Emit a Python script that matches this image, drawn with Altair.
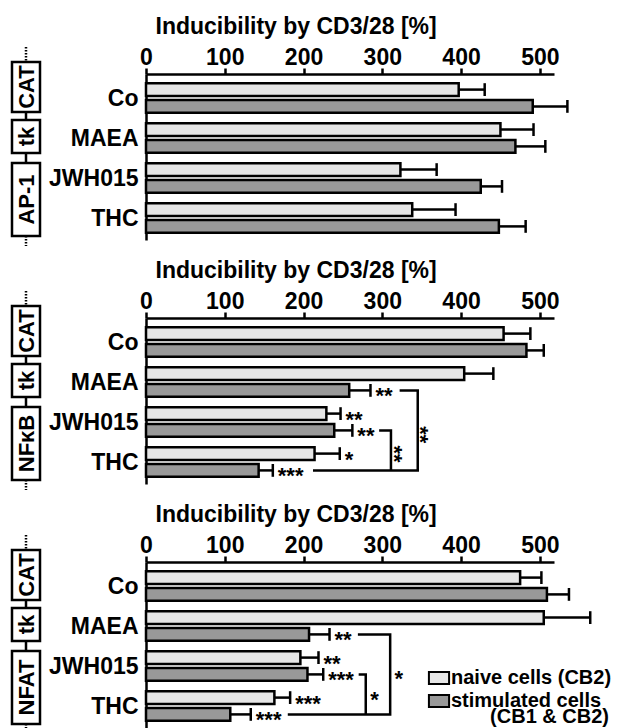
import json
import altair as alt
import pandas as pd

# ---------------- data ----------------
drugs = ["Co", "MAEA", "JWH015", "THC"]
cells = ["naive", "stim"]

ap1_naive = [397, 450, 323, 338]
ap1_naive_sd = [33, 42, 46, 55]
ap1_stim = [491, 469, 425, 448]
ap1_stim_sd = [44, 38, 27, 34]

nfkb_naive = [454, 404, 229, 214]
nfkb_naive_sd = [34, 37, 18, 32]
nfkb_stim = [483, 258, 239, 143]
nfkb_stim_sd = [22, 27, 23, 18]

nfat_naive = [475, 505, 196, 163]
nfat_naive_sd = [27, 59, 23, 20]
nfat_stim = [509, 207, 205, 107]
nfat_stim_sd = [28, 26, 20, 26]

# significance marks next to bars: (drug index, cell, label)
nfkb_stars = [(1, "stim", "**"), (2, "naive", "**"), (2, "stim", "**"),
              (3, "naive", "*"), (3, "stim", "***")]
nfat_stars = [(1, "stim", "**"), (2, "naive", "**"), (2, "stim", "***"),
              (3, "naive", "***"), (3, "stim", "***")]

# comparison brackets: polylines of (x value, drug index, cell)
nfkb_brackets = [
    [(322, 1, "stim"), (345, 1, "stim"), (345, 3, "stim"), (212, 3, "stim")],
    [(296, 2, "stim"), (311, 2, "stim"), (311, 3, "stim")],
]
nfkb_bracket_labels = [("**", 356, 2.32, 90), ("**", 323, 2.8, 90)]
nfat_brackets = [
    [(269, 1, "stim"), (310, 1, "stim"), (310, 3, "stim"), (180, 3, "stim")],
    [(270, 2, "stim"), (279, 2, "stim"), (279, 3, "stim")],
]
nfat_bracket_labels = [("*", 321, 2.18, 0), ("*", 290, 2.69, 0)]

x_ticks = [0, 100, 200, 300, 400, 500]
x_title = "Inducibility by CD3/28 [%]"
legend_labels = {"naive": "naive cells (CB2)", "stim": "stimulated cells"}
legend_extra = "(CB1 & CB2)"

# ---------------- styling / layout ----------------
FONT = "Liberation Sans"
FS = 23
W = 408
H = 166
OFF = 0.21
HALF = 0.16
CAP = 0.16
SW = 2.5
NAIVE_FILL = "#e6e6e6"
STIM_FILL = "#999999"

xs = alt.Scale(domain=[0, 518], nice=False, zero=True)
ys = alt.Scale(domain=[-0.6, 3.55], reverse=True, nice=False, zero=False)
fills = alt.Scale(domain=cells, range=[NAIVE_FILL, STIM_FILL])

pos_expr = f"datum.row + (datum.cell == 'naive' ? {-OFF} : {OFF})"
label_expr = json.dumps(drugs) + "[datum.value]"

one = alt.Data(values=[{"k": 1}])


def deco(promoter):
    """promoter construct drawn left of the axis labels"""
    layers = []
    cx = -120
    layers.append(alt.Chart(one).mark_rule(color="black", strokeWidth=2.5, strokeDash=[1.5, 1.5])
                  .encode(x=alt.value(cx), y=alt.value(-27), y2=alt.value(-12)))
    layers.append(alt.Chart(one).mark_rule(color="black", strokeWidth=2.5)
                  .encode(x=alt.value(cx), y=alt.value(-12), y2=alt.value(162)))
    layers.append(alt.Chart(one).mark_rule(color="black", strokeWidth=2.5, strokeDash=[1.5, 1.5])
                  .encode(x=alt.value(cx), y=alt.value(162), y2=alt.value(172)))
    for txt, y0, y1 in [("CAT", -12, 38), ("tk", 46, 79), (promoter, 89, 162)]:
        layers.append(alt.Chart(one).mark_rect(fill="white", stroke="black", strokeWidth=2.5)
                      .encode(x=alt.value(-134), x2=alt.value(-106),
                              y=alt.value(y0), y2=alt.value(y1)))
        layers.append(alt.Chart(one).mark_text(angle=270, align="center", baseline="middle",
                                               font=FONT, fontSize=22, fontWeight="bold",
                                               color="black", dy=1)
                      .encode(x=alt.value(cx), y=alt.value((y0 + y1) / 2), text=alt.value(txt)))
    return layers


def panel(promoter, naive, naive_sd, stim, stim_sd, stars, brackets, blabels,
          legend=False, height=H):
    df = pd.DataFrame({
        "drug": drugs * 2,
        "row": list(range(4)) * 2,
        "cell": ["naive"] * 4 + ["stim"] * 4,
        "value": naive + stim,
        "sd": naive_sd + stim_sd,
    })
    base = alt.Chart(df).transform_calculate(
        pos=pos_expr,
        upper="datum.value + datum.sd",
        zero="0",
        lo=f"datum.pos - {HALF}",
        hi=f"datum.pos + {HALF}",
        clo=f"datum.pos - {CAP}",
        chi=f"datum.pos + {CAP}",
    )
    xaxis = alt.Axis(orient="top", values=x_ticks, title=x_title, grid=False,
                     domainColor="black", domainWidth=SW, tickColor="black",
                     tickWidth=SW, tickSize=6, labelFont=FONT, labelFontSize=FS,
                     labelFontWeight="bold", labelColor="black", labelPadding=4,
                     labelBaseline="alphabetic", labelFlush=False,
                     titleFont=FONT, titleFontSize=FS, titleFontWeight="bold",
                     titleColor="black", titleX=9, titleY=-41, titleAlign="left",
                     titleBaseline="alphabetic")
    yaxis = alt.Axis(values=[0, 1, 2, 3], labelExpr=label_expr, title=None, grid=False,
                     ticks=False, tickSize=0, domainColor="black", domainWidth=SW,
                     labelFont=FONT, labelFontSize=FS, labelFontWeight="bold",
                     labelColor="black", labelPadding=8, labelFlush=False)
    if legend:
        leg = alt.Legend(orient="none", legendX=283, legendY=106, title=None,
                         symbolType="M-1.12,-0.67H1.12V0.67H-1.12Z", symbolSize=324,
                         symbolStrokeColor="black", symbolStrokeWidth=2,
                         symbolOpacity=1,
                         labelFont=FONT, labelFontSize=20, labelFontWeight="bold",
                         labelColor="black", labelLimit=400, labelOffset=2,
                         rowPadding=1, padding=0,
                         labelExpr="datum.label == 'naive' ? '%s' : '%s'"
                         % (legend_labels["naive"], legend_labels["stim"]))
    else:
        leg = None
    bars = base.mark_rect(stroke="black", strokeWidth=SW).encode(
        x=alt.X("zero:Q", scale=xs, axis=xaxis),
        x2="value:Q",
        y=alt.Y("lo:Q", scale=ys, axis=yaxis),
        y2="hi:Q",
        fill=alt.Fill("cell:N", scale=fills, legend=leg),
    )
    err = base.mark_rule(color="black", strokeWidth=SW).encode(
        x="value:Q", x2="upper:Q", y="pos:Q")
    cap = base.mark_rule(color="black", strokeWidth=SW).encode(
        x="upper:Q", y="clo:Q", y2="chi:Q")
    layers = [bars, err, cap]

    if stars:
        vals = {"naive": (naive, naive_sd), "stim": (stim, stim_sd)}
        sdf = pd.DataFrame({
            "row": [s[0] for s in stars],
            "cell": [s[1] for s in stars],
            "label": [s[2] for s in stars],
            "upper": [vals[s[1]][0][s[0]] + vals[s[1]][1][s[0]] for s in stars],
        })
        layers.append(alt.Chart(sdf).transform_calculate(pos=pos_expr).mark_text(
            align="left", baseline="middle", dx=5, dy=6, font=FONT, fontSize=22,
            fontWeight="bold", color="black").encode(
            x="upper:Q", y="pos:Q", text="label:N"))
    if brackets:
        rows = []
        for b, pts in enumerate(brackets):
            for i, (xv, r, c) in enumerate(pts):
                rows.append({"bid": b, "i": i, "x": xv, "row": r, "cell": c})
        bdf = pd.DataFrame(rows)
        layers.append(alt.Chart(bdf).transform_calculate(pos=pos_expr).mark_line(
            color="black", strokeWidth=SW, strokeJoin="miter").encode(
            x="x:Q", y="pos:Q", detail="bid:N", order="i:Q"))
    if blabels:
        ldf = pd.DataFrame({
            "label": [l[0] for l in blabels],
            "x": [l[1] for l in blabels],
            "y": [l[2] for l in blabels],
            "angle": [l[3] for l in blabels],
        })
        layers.append(alt.Chart(ldf).mark_text(
            align="center", baseline="middle", dy=6, font=FONT, fontSize=22,
            fontWeight="bold", color="black").encode(
            x="x:Q", y="y:Q", text="label:N", angle=alt.Angle("angle:Q", scale=None)))
    if legend:
        layers.append(alt.Chart(one).mark_text(
            align="right", baseline="alphabetic", font=FONT, fontSize=20,
            fontWeight="bold", color="black").encode(
            x=alt.value(463), y=alt.value(161), text=alt.value(legend_extra)))
    layers += deco(promoter)
    return alt.layer(*layers).properties(width=W, height=height)


p1 = panel("AP-1", ap1_naive, ap1_naive_sd, ap1_stim, ap1_stim_sd, [], [], [])
p2 = panel("NF\u03baB", nfkb_naive, nfkb_naive_sd, nfkb_stim, nfkb_stim_sd,
           nfkb_stars, nfkb_brackets, nfkb_bracket_labels)
p3 = panel("NFAT", nfat_naive, nfat_naive_sd, nfat_stim, nfat_stim_sd,
           nfat_stars, nfat_brackets, nfat_bracket_labels, legend=True)

chart = alt.vconcat(p1, p2, p3, spacing=11).resolve_scale(
    x="independent", y="independent", fill="independent"
).resolve_legend(fill="independent").properties(
    padding={"left": 2, "top": 7, "right": 0, "bottom": 0}
).configure_view(stroke=None)

chart.save("out.html", embed_options={"renderer": "svg", "actions": False})
